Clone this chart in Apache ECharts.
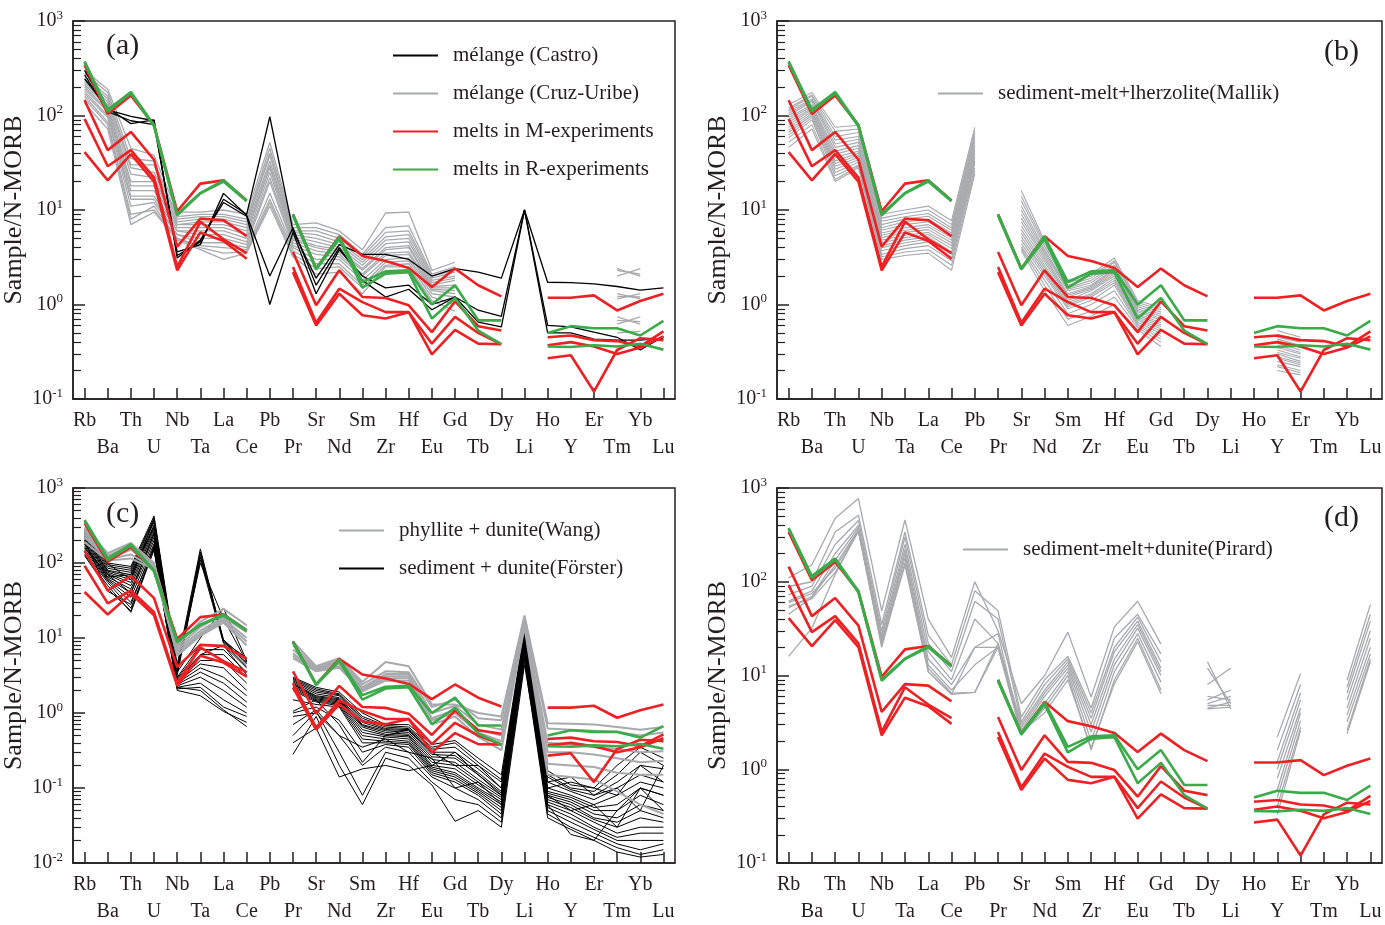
<!DOCTYPE html>
<html>
<head>
<meta charset="utf-8">
<title>N-MORB normalized spider diagrams</title>
<script src="https://cdn.jsdelivr.net/npm/echarts@6.0.0/dist/echarts.min.js"></script>
<style>
html, body { margin: 0; padding: 0; background: #fff; }
#main { width: 1385px; height: 925px; }
</style>
</head>
<body>
<div id="main"></div>
<script>
var _ = null;

// element order on the x axis
var elements = ['Rb','Ba','Th','U','Nb','Ta','La','Ce','Pb','Pr','Sr','Nd','Sm','Zr','Hf','Eu','Gd','Tb','Dy','Li','Ho','Y','Er','Tm','Yb','Lu'];

// melts in M-experiments (red, same in all panels)
var mMelts = [
  [340,104,163,79,9.7,19,20.6,12.6,_,9.0,2.4,5.26,3.26,2.88,2.44,1.53,2.4,1.6,1.22,_,1.18,1.18,1.25,0.865,1.09,1.30],
  [145,43,67,34,4.1,8.1,7.8,5.3,_,3.6,0.98,2.3,1.2,1.17,0.98,0.51,1.08,0.59,0.53,_,0.45,0.47,0.42,0.41,0.36,0.52],
  [92,29,43,22,2.5,7.5,4.9,3.5,_,2.5,0.64,1.47,1.06,0.83,0.83,0.385,0.74,0.5,0.38,_,0.37,0.40,0.36,0.30,0.35,0.46],
  [41,20.6,39,20,2.3,5.8,4.7,3.05,_,2.2,0.60,1.30,0.77,0.71,0.83,0.297,0.54,0.385,0.38,_,0.27,0.29,0.12,0.33,0.44,0.42]
];

// melts in R-experiments (green, same in all panels)
var rMelts = [
  [374,115,177,79,9.1,15.1,20.6,12.6,_,9.0,2.4,5.2,1.73,2.24,2.3,1.0,1.6,0.68,0.68,_,0.50,0.59,0.56,0.56,0.47,0.67],
  [365,110,172,77,8.8,15,20,12.4,_,8.7,2.35,4.95,1.51,2.12,2.2,0.71,1.17,0.53,0.38,_,0.36,0.355,0.37,0.36,0.385,0.333]
];

// (a) mélange (Castro)
var castro = [
  [300,115,98,88,3.3,4.6,13,9,97,6.0,1.9,4.3,3.4,3.4,3.0,2.0,2.4,2.2,1.9,10,1.72,1.7,1.65,1.55,1.42,1.5],
  [270,110,88,80,3.6,4.3,15,8.8,2.0,6.5,1.6,4.0,1.8,1.2,1.45,0.88,1.2,0.87,0.75,10,0.6,0.58,0.51,0.45,0.33,0.46],
  [245,120,82,90,3.1,4.8,12,8.6,1.0,5.8,1.3,3.8,2.0,1.5,1.6,1.0,1.2,0.65,0.58,10,0.5,0.5,0.43,0.42,0.42,0.44]
];

// (a) mélange (Cruz-Uribe)
var cruzUribe = [
  [300,190,45,38,9.5,9.5,10,9,52,7,7.3,6,3.8,9.3,9.5,2.3,2.8,_,_,_,_,_,_,2.4,2.0,_],
  [280,175,35,33,8.5,9,9,8,45,6.5,6.5,5.5,3.4,6.5,6.8,2.1,2.5,_,_,_,_,_,_,2.0,2.4,_],
  [260,160,30,30,8,8.5,8.5,7.5,40,6,6,5,3.2,5.8,6,2,2.3,_,_,_,_,_,_,2.3,2.1,_],
  [240,150,28,25,7.5,8,8,7,38,5.8,5.5,4.6,3,5.2,5.5,1.9,2.2,_,_,_,_,_,_,1.3,1.15,_],
  [230,140,24,22,7,7.5,7.5,6.5,33,5.5,5,4.3,2.8,4.8,5,1.8,2,_,_,_,_,_,_,1.15,1.3,_],
  [220,130,20,20,7,7,7,6,30,5.2,4.6,4,2.6,4.4,4.6,1.7,1.9,_,_,_,_,_,_,1.22,1.2,_],
  [210,125,18,18,6.5,6.5,6.5,5.5,28,5,4.2,3.8,2.4,4,4.2,1.6,1.8,_,_,_,_,_,_,0.74,0.62,_],
  [200,115,16,16,6,6,6,5,25,4.8,4,3.6,2.3,3.8,4,1.55,1.6,_,_,_,_,_,_,0.62,0.74,_],
  [190,110,14,14,6,5.5,5.5,4.6,22,4.5,3.7,3.4,2.1,3.5,3.6,1.5,1.5,_,_,_,_,_,_,0.68,0.66,_],
  [180,100,13,13,5.5,5,5,4.3,20,4.2,3.4,3.2,2,3.3,3.4,1.45,1.4,_,_,_,_,_,_,0.5,0.52,_],
  [170,95,11,12,5.5,4.5,4.5,4,15,4,3,3,1.8,3,3.1,1.4,1.3,_,_,_,_,_,_,_,_,_],
  [160,85,9,10,5,4.2,4,3.8,13,3.7,2.7,2.7,1.6,2.8,2.9,1.3,1.2,_,_,_,_,_,_,_,_,_],
  [150,80,8,11,5,4,3.5,3.6,12,3.4,2.4,2.5,1.5,2.6,2.7,1.2,1.0,_,_,_,_,_,_,_,_,_],
  [135,72,7,9.5,4.8,3.8,3,3.5,11,3.2,2.1,2.2,1.3,2.5,2.5,1.1,0.85,_,_,_,_,_,_,_,_,_]
];

// (b) sediment-melt+lherzolite (Mallik)
var mallik = [
  [130,175,75,79,9,10,11,7.7,75,_,16,4.7,1.8,2.1,3.1,1.1,0.93,_,_,_,_,0.53,0.45,_,_,_],
  [120,165,68,72,8.2,9.2,10,7,70,_,14,4.4,1.7,2.0,2.9,1.05,0.88,_,_,_,_,0.48,0.42,_,_,_],
  [115,160,60,66,7.6,8.5,9.2,6.5,65,_,12.5,4.1,1.6,1.9,2.8,1.0,0.83,_,_,_,_,0.45,0.40,_,_,_],
  [110,150,55,60,7.0,8,8.6,6.1,60,_,11,3.8,1.5,1.8,2.6,0.95,0.79,_,_,_,_,0.43,0.37,_,_,_],
  [105,145,50,56,6.5,7.5,8,5.7,56,_,10,3.6,1.45,1.7,2.5,0.9,0.75,_,_,_,_,0.41,0.35,_,_,_],
  [100,140,46,52,6.1,7,7.5,5.4,52,_,9,3.4,1.4,1.6,2.4,0.87,0.71,_,_,_,_,0.39,0.33,_,_,_],
  [95,130,42,48,5.7,6.5,7,5.1,48,_,8.2,3.2,1.3,1.55,2.3,0.84,0.68,_,_,_,_,0.37,0.31,_,_,_],
  [90,125,39,45,5.4,6.1,6.6,4.8,45,_,7.5,3,1.25,1.5,2.2,0.8,0.64,_,_,_,_,0.35,0.30,_,_,_],
  [85,120,36,42,5.1,5.8,6.2,4.5,42,_,6.8,2.8,1.2,1.45,2.1,0.77,0.61,_,_,_,_,0.33,0.28,_,_,_],
  [80,115,33,40,4.8,5.4,5.8,4.2,40,_,6.2,2.6,1.1,1.4,2.0,0.74,0.58,_,_,_,_,0.31,0.27,_,_,_],
  [75,110,31,38,4.5,5.1,5.5,3.9,37,_,5.7,2.45,1.05,1.3,1.9,0.71,0.55,_,_,_,_,0.30,0.25,_,_,_],
  [70,105,29,36,4.2,4.8,5.2,3.6,35,_,5.2,2.3,1.0,1.25,1.8,0.68,0.52,_,_,_,_,0.28,0.24,_,_,_],
  [66,100,27,34,4.0,4.5,4.9,3.4,33,_,4.8,2.15,0.95,1.2,1.7,0.65,0.49,_,_,_,_,0.27,0.23,_,_,_],
  [62,95,25,32,3.7,4.2,4.6,3.1,31,_,4.4,2.0,0.9,1.1,1.6,0.62,0.46,_,_,_,_,0.25,0.22,_,_,_],
  [58,90,23,30,3.4,3.9,4.2,2.9,28,_,4.1,1.8,0.8,1.0,1.4,0.6,0.43,_,_,_,_,0.23,0.2,_,_,_],
  [52,80,21,29,3.2,3.6,3.8,2.6,26,_,3.9,1.6,0.7,0.85,1.2,0.57,0.4,_,_,_,_,0.22,0.19,_,_,_],
  [46,72,20,28,3.0,3.3,3.5,2.3,24,_,3.7,1.4,0.6,0.75,1.0,0.54,0.36,_,_,_,_,0.2,0.18,_,_,_]
];

// (c) phyllite + dunite (Wang)
var wang = [
  [300,135,185,100,8,16.5,24.5,14.8,_,9,4.2,5.4,2.6,4.8,4.2,1.3,1.3,1.0,0.9,20,0.73,0.72,0.70,0.65,0.6,0.65],
  [280,125,170,95,7.5,14,21,13,_,8,4.0,5.1,2.4,3.6,3.5,1.2,1.5,0.85,0.8,19,0.62,0.6,0.58,0.56,0.5,0.55],
  [260,120,160,90,7,12.5,19,12,_,7,3.9,4.8,2.2,3.3,3.3,1.0,1.25,0.7,0.6,17,0.4,0.38,0.35,0.33,0.3,0.31],
  [240,115,150,88,6.5,11.5,18,10,_,6.2,3.8,4.5,2.1,3.1,3.1,0.85,1.1,0.6,0.5,16,0.3,0.3,0.28,0.25,0.22,0.23],
  [220,112,130,85,6,11,17,9,_,5.8,3.7,4.2,2.0,2.9,2.9,0.8,1.0,0.55,0.42,15,0.21,0.2,0.19,0.16,0.15,0.15],
  [190,108,115,82,5.8,10.7,16,8,_,5.4,3.6,4.0,1.95,2.7,2.7,0.7,0.9,0.48,0.32,14,0.15,0.14,0.13,0.09,0.06,0.045]
];

// (c) sediment + dunite (Förster)
var forster = [
  [280,100,90,425,4.4,154,9,5.4,_,3.0,2.2,1.9,1.0,0.7,0.7,0.38,0.43,0.25,0.15,13,0.17,0.11,0.1,0.2,0.35,0.25],
  [260,95,85,400,4.0,140,9.5,5.0,_,2.9,2.1,1.8,0.9,0.68,0.65,0.35,0.4,0.22,0.13,12,0.15,0.1,0.09,0.15,0.3,0.2],
  [250,90,80,380,3.6,130,8.8,4.7,_,2.8,2.0,1.75,0.85,0.65,0.62,0.33,0.35,0.2,0.12,11.5,0.14,0.095,0.08,0.12,0.2,0.18],
  [240,85,75,350,3.4,120,9.2,4.5,_,2.7,1.9,1.7,0.8,0.62,0.6,0.3,0.3,0.18,0.1,11,0.12,0.09,0.07,0.1,0.15,0.12],
  [230,80,70,320,3.2,110,8.5,4.2,_,2.6,1.8,1.6,0.75,0.6,0.58,0.28,0.27,0.16,0.09,10.5,0.1,0.08,0.06,0.08,0.12,0.1],
  [220,78,65,300,3.0,8,8,4.0,_,2.5,1.7,1.55,0.7,0.58,0.55,0.26,0.25,0.15,0.085,10,0.09,0.075,0.055,0.06,0.1,0.08],
  [210,75,60,280,2.9,7,7,3.5,_,2.45,1.65,1.5,0.68,0.55,0.52,0.24,0.22,0.13,0.08,9.5,0.085,0.07,0.05,0.05,0.08,0.06],
  [200,72,55,260,2.8,6,6,3.0,_,2.4,1.6,1.45,0.65,0.52,0.5,0.22,0.2,0.12,0.075,9,0.08,0.065,0.045,0.04,0.06,0.05],
  [190,70,50,240,2.7,5,5,2.5,_,2.3,1.55,1.4,0.6,0.5,0.48,0.2,0.18,0.11,0.07,8.5,0.075,0.06,0.04,0.035,0.05,0.04],
  [180,65,45,220,2.6,4.5,4,2.0,_,2.2,1.5,1.35,0.55,0.48,0.45,0.19,0.16,0.1,0.065,8,0.07,0.055,0.038,0.03,0.04,0.035],
  [170,62,40,200,2.5,4,3,1.7,_,2.1,1.45,1.3,0.5,0.45,0.42,0.18,0.15,0.095,0.06,7.5,0.065,0.05,0.035,0.025,0.03,0.03],
  [160,60,35,180,2.4,3.5,2.5,1.4,_,2.0,1.4,1.25,0.45,0.42,0.4,0.17,0.14,0.09,0.055,7,0.06,0.045,0.03,0.022,0.025,0.025],
  [150,58,30,160,2.3,3,2,1.2,_,1.5,1.3,1.2,0.4,0.4,0.38,0.16,0.13,0.085,0.05,6.5,0.055,0.04,0.028,0.02,0.02,0.02],
  [140,55,25,150,2.2,2.5,1.5,1.0,_,1.0,1.2,0.8,0.3,0.38,0.35,0.15,0.12,0.08,0.045,6,0.05,0.035,0.025,0.018,0.015,0.018],
  [130,50,22,150,2.1,2.2,1.2,0.9,_,0.7,1.1,0.5,0.2,0.35,0.3,0.14,0.1,0.07,0.04,5.5,0.045,0.03,0.022,0.016,0.013,0.015],
  [125,45,23,160,2.0,1.7,1.05,0.75,_,0.5,1.05,0.3,0.08,0.3,0.25,0.12,0.07,0.06,0.035,5,0.04,0.028,0.02,0.014,0.012,0.013],
  [200,42,28,170,2.2,2.0,1.1,0.66,_,0.28,0.9,0.2,0.06,0.25,0.2,0.11,0.036,0.05,0.03,4.4,0.06,0.024,0.02,0.05,0.1,0.05],
  [180,65,70,300,3.5,10,25,5,_,0.4,0.63,0.14,0.18,0.2,0.17,0.2,0.3,0.15,0.08,7,0.1,0.12,0.1,0.08,0.2,0.12],
  [270,98,60,380,3.8,100,18,4.8,_,1.05,1.5,0.7,0.22,0.5,0.6,0.3,0.2,0.2,0.1,9,0.12,0.14,0.08,0.1,0.05,0.2],
  [160,70,40,250,2.6,6,8,3.2,_,0.9,1.0,0.5,0.35,0.45,0.3,0.25,0.1,0.12,0.06,8,0.08,0.05,0.06,0.03,0.1,0.08]
];

// (d) sediment-melt+dunite (Pirard)
var pirard = [
  [110,152,475,771,49,457,40,15.6,100,30,5,10,29,5.9,33,62,21.6,_,14,4.4,_,2.2,10.5,_,8.9,57],
  [89,100,340,513,35,340,27,13,80,49,3.6,9,16,4.5,25,45,17,_,12,5,_,1.6,8,_,7.5,45],
  [73,90,250,450,30,300,22,11,62,40,3.2,8,15,4,20,42,14,_,8,12,_,1.2,6.5,_,6.5,38],
  [62,80,200,400,27,250,18,9,40,22,3,7,14,3.5,18,38,12,_,5.5,7,_,1.0,5.5,_,5.5,30],
  [53,70,170,380,25,220,15,8,20,20,2.8,6.5,13,3,15,35,11,_,6,5.5,_,0.8,4.5,_,4.5,25],
  [45,68,150,360,23,200,13,7,13,20,2.6,6,12,2.5,13,32,10,_,5,6,_,0.6,4,_,3.8,20],
  [60,75,140,350,21,180,12,6.5,6.6,22,2.4,5,11,2,11,28,8.5,_,4.8,4.8,_,0.5,3.3,_,3.2,17],
  [55,66,125,345,20,160,11,6.3,6.6,20,2.3,4.5,10,1.6,9,25,7,_,4.5,5.2,_,0.4,2.8,_,2.6,15],
  [16,32,120,350,22,150,11,6.3,20,28,2.5,4,9,1.7,8.2,23,6.4,_,4.4,4.6,_,0.33,2.6,_,2.4,14]
];

var FONT = '"Liberation Serif", "Times New Roman", serif';
var INK = '#231f20';
var RED = '#ed2124', GREEN = '#3aaa4a', GRAY = '#a7a9ac', BLACK = '#000000';

var panels = [
  { left: 71,  top: 21,  width: 604, height: 378, yMin: 0.1 },
  { left: 777, top: 21,  width: 605, height: 378, yMin: 0.1 },
  { left: 71,  top: 488, width: 604, height: 378, yMin: 0.01 },
  { left: 777, top: 488, width: 605, height: 378, yMin: 0.1 }
];

// minor ticks at 2..9 of every decade, as positions on a log10 helper axis
function minorTicks(lo, hi) {
  var out = [];
  for (var k = lo; k < hi; k++) {
    for (var m = 2; m <= 9; m++) out.push(k + Math.log10(m));
  }
  return out;
}

var grids = [], xAxes = [], yAxes = [];
panels.forEach(function (p, i) {
  grids.push({ left: p.left, top: p.top, width: p.width, height: p.height,
    show: true, borderColor: INK, borderWidth: 1.5 });
  xAxes.push({
    type: 'category', gridIndex: i, data: elements, boundaryGap: true,
    axisLine: { show: true, onZero: false, lineStyle: { color: INK, width: 1.5 } },
    axisTick: { show: true, interval: 0, alignWithLabel: true, inside: true, length: 11,
      lineStyle: { color: INK, width: 1.5 } },
    axisLabel: { interval: 0, margin: 8, fontFamily: FONT, fontSize: 20, color: INK, lineHeight: 27,
      formatter: function (v, idx) { return idx % 2 ? '\n' + v : v; } },
    splitLine: { show: false }
  });
  var lo = Math.round(Math.log10(p.yMin));
  yAxes.push({
    type: 'log', gridIndex: i, min: p.yMin, max: 1000, position: 'left',
    name: 'Sample/N-MORB', nameLocation: 'middle', nameGap: 46,
    nameTextStyle: { fontFamily: FONT, fontSize: 26, color: INK },
    axisLine: { show: true, onZero: false, lineStyle: { color: INK, width: 1.5 } },
    axisTick: { show: true, inside: true, length: 12, lineStyle: { color: INK, width: 1.5 } },
    axisLabel: {
      margin: 10,
      formatter: function (v) { return '{b|10}{s|' + Math.round(Math.log10(v)) + '}'; },
      rich: {
        b: { fontFamily: FONT, fontSize: 20, color: INK, lineHeight: 24 },
        s: { fontFamily: FONT, fontSize: 13, color: INK, lineHeight: 14, verticalAlign: 'top' }
      }
    },
    splitLine: { show: false }
  });
  // helper axis on the same (left) side: carries only the minor ticks
  yAxes.push({
    type: 'value', gridIndex: i, min: lo, max: 3, position: 'left',
    axisLine: { show: false, onZero: false },
    axisLabel: { show: false },
    splitLine: { show: false },
    axisTick: { show: true, inside: true, length: 8, customValues: minorTicks(lo, 3),
      lineStyle: { color: INK, width: 1.2 } }
  });
});

var series = [];
function addGroup(lines, name, panel, color, width, z) {
  lines.forEach(function (vals) {
    series.push({
      type: 'line', name: name, xAxisIndex: panel, yAxisIndex: panel * 2,
      data: vals, symbol: 'none', connectNulls: false, silent: true, z: z,
      lineStyle: { color: color, width: width }, itemStyle: { color: color },
      emphasis: { disabled: true }
    });
  });
}

// panel (a)
addGroup(cruzUribe, 'mélange (Cruz-Uribe)', 0, GRAY, 1.3, 2);
addGroup(castro, 'mélange (Castro)', 0, BLACK, 1.3, 3);
// panel (b)
addGroup(mallik, 'sediment-melt+lherzolite(Mallik)', 1, GRAY, 1.1, 2);
// panel (c)
addGroup(forster, 'sediment + dunite(Förster)', 2, BLACK, 1, 2);
addGroup(wang, 'phyllite + dunite(Wang)', 2, GRAY, 2, 3);
// panel (d)
addGroup(pirard, 'sediment-melt+dunite(Pirard)', 3, GRAY, 1.3, 2);
// experiments on every panel
for (var k = 0; k < 4; k++) {
  addGroup(mMelts, 'melts in M-experiments', k, RED, 2.6, 4);
  addGroup(rMelts, 'melts in R-experiments', k, GREEN, 2.6, 5);
}

function legendAt(names, left, top) {
  return {
    data: names, orient: 'vertical', left: left, top: top, selectedMode: false,
    icon: 'rect', itemWidth: 45, itemHeight: 2, itemGap: 17,
    textStyle: { fontFamily: FONT, fontSize: 21, color: INK, padding: [0, 0, 0, 10] }
  };
}

function panelTag(text, left, top) {
  return { text: text, left: left, top: top, padding: 0,
    textStyle: { fontFamily: FONT, fontSize: 30, fontWeight: 'normal', color: INK } };
}

var option = {
  animation: false,
  backgroundColor: '#ffffff',
  title: [
    panelTag('(a)', 106, 31),
    panelTag('(b)', 1324, 37),
    panelTag('(c)', 106, 499),
    panelTag('(d)', 1324, 503)
  ],
  legend: [
    legendAt(['mélange (Castro)', 'mélange (Cruz-Uribe)', 'melts in M-experiments', 'melts in R-experiments'], 388, 40),
    legendAt(['sediment-melt+lherzolite(Mallik)'], 933, 78),
    legendAt(['phyllite + dunite(Wang)', 'sediment + dunite(Förster)'], 334, 515),
    legendAt(['sediment-melt+dunite(Pirard)'], 958, 534)
  ],
  grid: grids,
  xAxis: xAxes,
  yAxis: yAxes,
  series: series
};

var chart = echarts.init(document.getElementById('main'));
chart.setOption(option);
</script>
</body>
</html>
